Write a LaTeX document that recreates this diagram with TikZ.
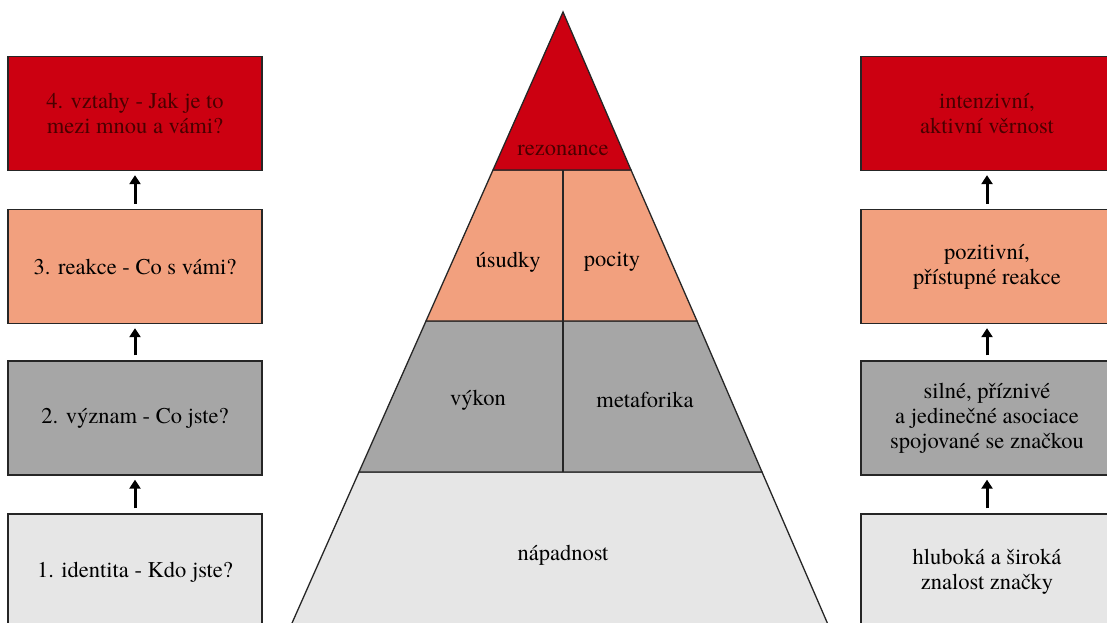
\documentclass[tikz,border=0pt]{standalone}
\usepackage{fontspec}
\IfFontExistsTF{texgyretermes-regular.otf}
  {\setmainfont{texgyretermes-regular.otf}}
  {\setmainfont{Liberation Serif}}
\usetikzlibrary{arrows.meta}
\definecolor{cred}{HTML}{CC0011}
\definecolor{csalmon}{HTML}{F2A07E}
\definecolor{cgray}{HTML}{A6A6A6}
\definecolor{clight}{HTML}{E6E6E6}
\definecolor{cdarkred}{HTML}{4A0000}
\definecolor{cborder}{HTML}{262626}
\tikzset{
  every node/.style={font=\rmfamily\fontsize{22.5}{25}\selectfont, text=black},
  box/.style={draw=cborder, line width=1.3pt, rectangle, minimum height=114pt, align=center, inner sep=0pt},
  lbox/.style={box, minimum width=254pt},
  rbox/.style={box, minimum width=252pt},
  uparrow/.style={line width=3pt, -{Triangle[width=11pt,length=9pt]}, shorten <=5pt, shorten >=4pt},
  layer/.style={draw=cborder, line width=1.3pt},
  lab/.style={inner sep=0pt}
}
\begin{document}
\begin{tikzpicture}[x=1pt,y=-1pt]
\useasboundingbox (0,0) rectangle (1107,623);
\clip (0,0) rectangle (1107,623);
% left column
\node[lbox, fill=cred, text=cdarkred] (l4) at (135,113.5) {4. vztahy - Jak je to\\mezi mnou a vámi?};
\node[lbox, fill=csalmon] (l3) at (135,266.5) {3. reakce - Co s vámi?};
\node[lbox, fill=cgray] (l2) at (135,418) {2. význam - Co jste?};
\node[lbox, fill=clight, minimum height=116pt] (l1) at (135,572) {1. identita - Kdo jste?};
\draw[uparrow] (l3.north) -- (l4.south);
\draw[uparrow] (l2.north) -- (l3.south);
\draw[uparrow] (l1.north) -- (l2.south);
% right column
\node[rbox, fill=cred, text=cdarkred] (r4) at (987,113.5) {intenzivní,\\aktivní věrnost};
\node[rbox, fill=csalmon] (r3) at (987,266.5) {pozitivní,\\přístupné reakce};
\node[rbox, fill=cgray] (r2) at (987,418) {silné, příznivé\\a jedinečné asociace\\spojované se značkou};
\node[rbox, fill=clight, minimum height=116pt] (r1) at (987,572) {hluboká a široká\\znalost značky};
\draw[uparrow] (r3.north) -- (r4.south);
\draw[uparrow] (r2.north) -- (r3.south);
\draw[uparrow] (r1.north) -- (r2.south);
% pyramid
\coordinate (A) at (563,12);
\coordinate (L1) at (493,170); \coordinate (R1) at (631,170);
\coordinate (L2) at (426,321); \coordinate (R2) at (697,321);
\coordinate (L3) at (359,472); \coordinate (R3) at (762,472);
\coordinate (L4) at (284.5,640); \coordinate (R4) at (834.7,640);
\filldraw[layer, fill=clight] (L3) -- (R3) -- (R4) -- (L4) -- cycle;
\filldraw[layer, fill=cgray] (L2) -- (R2) -- (R3) -- (L3) -- cycle;
\filldraw[layer, fill=csalmon] (L1) -- (R1) -- (R2) -- (L2) -- cycle;
\filldraw[layer, fill=cred] (A) -- (R1) -- (L1) -- cycle;
\draw[layer] (563,170) -- (563,472);
\node[lab, text=cdarkred] (rez) at (563,150) {rezonance};
\node[lab] (usu) at (508,262) {úsudky};
\node[lab] (poc) at (612,262) {pocity};
\node[lab] (vyk) at (478,400) {výkon};
\node[lab] (met) at (645,400) {metaforika};
\node[lab] (nap) at (563,555) {nápadnost};
\end{tikzpicture}
\end{document}
